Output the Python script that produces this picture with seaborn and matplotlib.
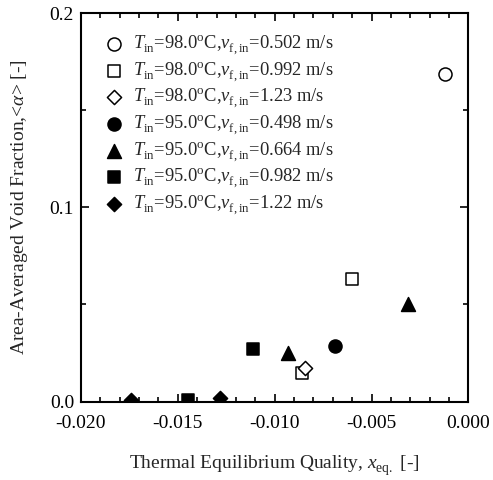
import matplotlib
matplotlib.use("Agg")
import matplotlib.pyplot as plt
import seaborn as sns
import pandas as pd
from matplotlib.ticker import MultipleLocator, FormatStrFormatter
import matplotlib._mathtext as _mt

# lower subscripts a bit, like the reference typesetting
_mt.FontConstantsBase.sub1 = 0.45
_mt.FontConstantsBase.sub2 = 0.6

# ---- data ----
labels = [
    r"$T_{\mathrm{in}}$=98.0$^{\mathrm{o}}$C,$v_{\mathrm{f,in}}$=0.502 m/s",
    r"$T_{\mathrm{in}}$=98.0$^{\mathrm{o}}$C,$v_{\mathrm{f,in}}$=0.992 m/s",
    r"$T_{\mathrm{in}}$=98.0$^{\mathrm{o}}$C,$v_{\mathrm{f,in}}$=1.23 m/s",
    r"$T_{\mathrm{in}}$=95.0$^{\mathrm{o}}$C,$v_{\mathrm{f,in}}$=0.498 m/s",
    r"$T_{\mathrm{in}}$=95.0$^{\mathrm{o}}$C,$v_{\mathrm{f,in}}$=0.664 m/s",
    r"$T_{\mathrm{in}}$=95.0$^{\mathrm{o}}$C,$v_{\mathrm{f,in}}$=0.982 m/s",
    r"$T_{\mathrm{in}}$=95.0$^{\mathrm{o}}$C,$v_{\mathrm{f,in}}$=1.22 m/s",
]
x_98_0502 = [-0.0012]
y_98_0502 = [0.1686]
x_98_0992 = [-0.0060, -0.0086]
y_98_0992 = [0.0629, 0.0146]
x_98_123 = [-0.00845]
y_98_123 = [0.0174]
x_95_0498 = [-0.0069]
y_95_0498 = [0.0285]
x_95_0664 = [-0.0031, -0.0093]
y_95_0664 = [0.0500, 0.0249]
x_95_0982 = [-0.01114, -0.01447]
y_95_0982 = [0.0268, 0.0010]
x_95_122 = [-0.0128, -0.0174]
y_95_122 = [0.0020, 0.0010]

xs = [x_98_0502, x_98_0992, x_98_123, x_95_0498, x_95_0664, x_95_0982, x_95_122]
ys = [y_98_0502, y_98_0992, y_98_123, y_95_0498, y_95_0664, y_95_0982, y_95_122]

# ---- style ----
markers = ["o", "s", "D", "o", "^", "s", "D"]
filled = [False, False, False, True, True, True, True]
sizes = [88, 74, 52, 88, 100, 74, 52]

sns.set_style("ticks")
plt.rcParams["font.family"] = ["Liberation Serif", "DejaVu Serif"]
plt.rcParams["mathtext.fontset"] = "custom"
plt.rcParams["mathtext.rm"] = "Liberation Serif"
plt.rcParams["mathtext.it"] = "Liberation Serif:italic"
plt.rcParams["mathtext.bf"] = "Liberation Serif:bold"
plt.rcParams["axes.unicode_minus"] = False

fig = plt.figure(figsize=(4.93, 4.80), dpi=100)
ax = fig.add_axes([0.1643, 0.1635, 0.786, 0.8094])

for xv, yv, m, f, s, lab in zip(xs, ys, markers, filled, sizes, labels):
    df = pd.DataFrame({"x": xv, "y": yv})
    sns.scatterplot(data=df, x="x", y="y", ax=ax, marker=m, s=s,
                    facecolor="black" if f else "white",
                    edgecolor="black", linewidth=1.1, label=lab, zorder=3)

ax.set_xlim(-0.020, 0.0)
ax.set_ylim(0.0, 0.2)
ax.xaxis.set_major_locator(MultipleLocator(0.005))
ax.xaxis.set_minor_locator(MultipleLocator(0.001))
ax.yaxis.set_major_locator(MultipleLocator(0.1))
ax.yaxis.set_minor_locator(MultipleLocator(0.05))
ax.xaxis.set_major_formatter(FormatStrFormatter("%.3f"))
ax.yaxis.set_major_formatter(FormatStrFormatter("%.1f"))
ax.tick_params(which="both", direction="in", top=True, right=True,
               width=1.2, labelsize=14, colors="black")
ax.tick_params(which="major", length=6, pad=5)
ax.tick_params(axis="x", which="major", pad=9.5)
ax.tick_params(which="minor", length=3.5)
for sp in ax.spines.values():
    sp.set_linewidth(1.5)
    sp.set_color("black")

ax.set_xlabel(r"Thermal Equilibrium Quality, $x_{\mathrm{eq.}}$ [-]", fontsize=14, labelpad=16)
ax.set_ylabel(r"Area-Averaged Void Fraction,<$\alpha$> [-]", fontsize=14, labelpad=14)

leg = ax.legend(loc="upper left", frameon=False, fontsize=13.3,
                handletextpad=0.45, labelspacing=0.17, borderaxespad=0.3,
                handlelength=1.2, bbox_to_anchor=(0.023, 0.98))

fig.savefig("out.png", dpi=100)
